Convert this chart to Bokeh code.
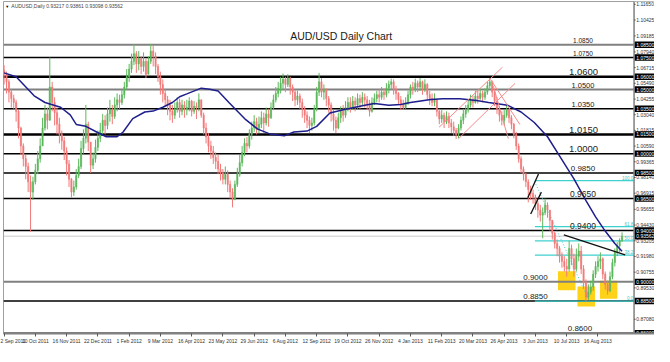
import numpy as np
from bokeh.plotting import figure
from bokeh.models import Range1d, LinearAxis, FixedTicker, Label
from bokeh.embed import file_html
from bokeh.resources import INLINE
from bokeh.core.properties import value

# ---------------- data (prices in pips, 2-day bars) ----------------
first_open = 10650
closes = [
 10620,10560,10480,10430, 10400,10330,10200,10060, 9960,9900,9780,9700, 9780,9870,9960,10060,
 10200,10310,10260,10520, 10400,10320,10230,10150, 10100,10020,9920,9800, 9700,9740,9830,9900,
 10040,10120,10230,10090, 9910,9960,10050,10120, 10180,10260,10220,10310, 10340,10290,10380,10420,
 10400,10460,10520,10600, 10660,10720,10780,10700, 10740,10680,10720,10620, 10720,10800,10760,10680,
 10600,10540,10470,10420, 10380,10330,10300,10350, 10400,10330,10380,10340, 10360,10410,10330,10370,
 10360,10420,10300,10200, 10130,10060,10020,9970, 9940,9880,9850,9800, 9840,9760,9700,9640,
 9760,9840,9930,10010, 10080,10060,10150,10200, 10250,10190,10230,10280, 10240,10310,10280,10360,
 10420,10470,10510,10550, 10580,10540,10590,10520, 10480,10420,10450,10400, 10350,10300,10260,10220,
 10240,10350,10480,10560, 10480,10500,10430,10380, 10310,10260,10200,10280, 10330,10300,10360,10400,
 10360,10410,10380,10430, 10400,10440,10420,10390, 10330,10400,10430,10460, 10440,10480,10460,10510,
 10540,10560,10500,10470, 10420,10380,10360,10400, 10460,10520,10500,10550, 10520,10560,10500,10540,
 10460,10430,10400,10420, 10330,10270,10300,10250, 10290,10240,10210,10180, 10150,10200,10260,10310,
 10340,10380,10420,10400, 10450,10430,10470,10440, 10480,10530,10560,10480, 10410,10350,10300,10260,
 10300,10340,10280,10230, 10150,10060,9960,9880, 9840,9780,9720,9690, 9660,9610,9560,9520,
 9540,9600,9560,9480, 9380,9300,9260,9200, 9160,9120,9100,9260, 9180,9100,9200,9240,
 9100,8990,8880,8920, 8960,9060,9120,9160, 9180,9060,8980,8930, 9040,9150,9230,9280,
 9322,9356]
highs = [
 10690,10640,10580,10500, 10460,10420,10340,10210, 10080,9990,9930,9830, 9820,9920,10020,10120,
 10280,10380,10360,10750, 10560,10440,10360,10280, 10180,10130,10050,9950, 9810,9790,9880,9960,
 10100,10190,10380,10250, 10060,10010,10110,10180, 10240,10310,10300,10360, 10420,10380,10440,10470,
 10460,10500,10560,10660, 10700,10780,10855,10800, 10800,10760,10790,10740, 10760,10856,10840,10790,
 10700,10640,10580,10500, 10450,10420,10380,10400, 10440,10430,10420,10410, 10420,10440,10420,10410,
 10400,10470,10420,10320, 10240,10160,10100,10060, 10010,9990,9920,9880, 9900,9870,9790,9730,
 9790,9890,9990,10060, 10120,10130,10190,10250, 10300,10280,10290,10330, 10320,10360,10350,10400,
 10460,10520,10560,10600, 10625,10600,10620,10600, 10540,10500,10490,10470, 10430,10370,10330,10290,
 10280,10380,10520,10630, 10590,10540,10510,10450, 10400,10340,10290,10320, 10370,10380,10410,10440,
 10440,10450,10440,10470, 10460,10480,10470,10450, 10420,10440,10470,10490, 10500,10520,10510,10550,
 10570,10585,10580,10530, 10480,10450,10420,10440, 10490,10540,10560,10585, 10570,10590,10570,10580,
 10550,10490,10470,10470, 10420,10350,10340,10320, 10330,10320,10270,10250, 10200,10230,10290,10350,
 10380,10420,10460,10450, 10490,10490,10510,10490, 10510,10560,10590,10570, 10500,10440,10370,10330,
 10340,10380,10350,10300, 10240,10170,10080,9980, 9900,9850,9800,9750, 9720,9680,9630,9600,
 9580,9650,9620,9560, 9460,9390,9330,9280, 9230,9200,9180,9320, 9290,9220,9260,9300,
 9280,9130,9020,8980, 9010,9090,9160,9200, 9230,9190,9080,9010, 9080,9180,9260,9310,
 9340,9386]
lows = [
 10540,10470,10400,10360, 10350,10250,10120,9990, 9900,9800,9700,9390, 9640,9760,9840,9930,
 10100,10180,10190,10300, 10330,10220,10150,10080, 10030,9950,9830,9740, 9660,9670,9720,9810,
 9880,10000,10080,10020, 9850,9880,9930,10020, 10090,10150,10150,10190, 10250,10230,10270,10330,
 10350,10380,10430,10500, 10560,10630,10690,10630, 10650,10620,10640,10590, 10620,10700,10680,10620,
 10560,10460,10400,10370, 10300,10260,10240,10270, 10320,10280,10300,10280, 10300,10330,10290,10310,
 10270,10330,10280,10150, 10080,10010,9960,9920, 9880,9840,9790,9760, 9760,9700,9650,9581,
 9640,9740,9820,9900, 9980,10010,10040,10110, 10170,10150,10160,10200, 10160,10220,10210,10270,
 10340,10400,10440,10470, 10500,10480,10520,10460, 10410,10370,10380,10350, 10280,10240,10200,10160,
 10180,10220,10330,10450, 10440,10420,10370,10320, 10250,10180,10160,10190, 10240,10250,10280,10330,
 10320,10340,10330,10350, 10350,10370,10360,10340, 10290,10320,10380,10400, 10400,10420,10420,10440,
 10470,10500,10460,10420, 10380,10340,10340,10350, 10380,10430,10460,10480, 10480,10490,10460,10480,
 10420,10380,10370,10370, 10290,10230,10240,10200, 10230,10200,10160,10140, 10115,10120,10180,10230,
 10280,10320,10360,10360, 10390,10390,10420,10400, 10420,10460,10500,10440, 10370,10310,10250,10220,
 10220,10280,10240,10190, 10120,10030,9930,9850, 9790,9740,9620,9640, 9610,9560,9500,9470,
 9340,9520,9500,9400, 9330,9260,9200,9150, 9110,9080,9040,9080, 9130,9040,9080,9160,
 9060,8950,8848,8860, 8900,8930,9030,9080, 9100,9020,8940,8900, 8920,9020,9120,9200,
 9230,9310]

# moving average trace (bar index, price)
ma_idx = [0, 10, 25, 34, 47, 55, 60, 68, 77, 85, 94, 99, 107, 117, 124, 132, 140, 146, 152, 164,
          171, 178, 187, 201, 211, 221, 233, 241, 252, 260, 271, 284, 300, 308, 320, 330, 338, 355,
          365, 379, 393, 403, 419, 430, 441, 452, 462, 474, 484, 492, 500, 508, 514]
ma_val = [1.0630, 1.0600, 1.0451, 1.0399, 1.0362, 1.0303, 1.0228, 1.0213, 1.0169, 1.0132, 1.0132,
          1.0169, 1.0273, 1.0325, 1.0332, 1.0362, 1.0399, 1.0444, 1.0466, 1.0511, 1.0503, 1.0488,
          1.0399, 1.0265, 1.0191, 1.0154, 1.0139, 1.0169, 1.0176, 1.0213, 1.0317, 1.0347, 1.0377,
          1.0392, 1.0377, 1.0384, 1.0399, 1.0422, 1.0429, 1.0429, 1.0414, 1.0399, 1.0377, 1.0325,
          1.0243, 1.0132, 0.9983, 0.9804, 0.9634, 0.9507, 0.9396, 0.9299, 0.9239]

levels = [1.0850, 1.0750, 1.0600, 1.0500, 1.0350, 1.0150, 1.0000, 0.9850, 0.9650, 0.9400,
          0.9000, 0.8850, 0.8600]
level_texts = ["1.0850", "1.0750", "1.0600", "1.0500", "1.0350", "1.0150", "1.0000", "0.9850",
               "0.9650", "0.9400", "0.9000", "0.8850", "0.8600"]
level_boxes = ["1.08500", "1.07500", "1.06000", "1.05000", "1.03500", "1.01500", "1.00000",
               "0.98500", "0.96500", "0.94000", "0.90000", "0.88500", "0.86000"]

fib_levels = [0.9790, 0.9431, 0.9320, 0.9209, 0.8850]
fib_texts = ["100.0", "61.8", "50.0", "38.2", "0.0"]
fib_start = 441.5

current_price = 0.93562
current_text = "0.93562"
header_text = "AUDUSD,Daily  0.93217 0.93861 0.93098 0.93562"
title_text = "AUD/USD Daily Chart"

# yellow boxes (bar index range, price range)
box_left = [460.7, 476.9, 495.6]
box_right = [475.3, 491.5, 510.1]
box_top = [0.9083, 0.8964, 0.9009]
box_bottom = [0.8935, 0.8808, 0.8868]

# trend lines
black_x0 = [465.6, 435.6, 438.0]
black_y0 = [0.9366, 0.9656, 0.9529]
black_x1 = [516.6, 444.5, 446.9]
black_y1 = [0.9210, 0.9842, 0.9700]
red_x0 = [361.8, 378.0, 404.8, 407.0]
red_y0 = [1.0206, 1.0117, 1.0578, 1.0526]
red_x1 = [414.5, 425.0, 429.0, 419.4]
red_y1 = [1.0674, 1.0548, 1.0228, 1.0117]
fib_diag_x = [441.3, 485.8]
fib_diag_y = [0.9782, 0.8868]

xtick_idx = [0, 26, 52, 78, 104, 130, 156, 182, 208, 234, 260, 286, 312, 338, 364, 390, 416,
             442, 468, 494]
xtick_labels = ["2 Sep 2011", "10 Oct 2011", "16 Nov 2011", "22 Dec 2011", "1 Feb 2012",
                "9 Mar 2012", "16 Apr 2012", "23 May 2012", "29 Jun 2012", "6 Aug 2012",
                "12 Sep 2012", "19 Oct 2012", "26 Nov 2012", "4 Jan 2013", "11 Feb 2013",
                "20 Mar 2013", "26 Apr 2013", "3 Jun 2013", "10 Jul 2013", "16 Aug 2013"]
ytick_vals = [1.11650, 1.10425, 1.09185, 1.07940, 1.06715, 1.05490, 1.04255, 1.03040, 1.01815,
              1.00590, 0.99365, 0.98140, 0.96915, 0.95655, 0.94430, 0.93205, 0.91980, 0.90755,
              0.89530, 0.87080]
ytick_texts = ["1.11650", "1.10425", "1.09185", "1.07940", "1.06715", "1.05490", "1.04255",
               "1.03040", "1.01815", "1.00590", "0.99365", "0.98140", "0.96915", "0.95655",
               "0.94430", "0.93205", "0.91980", "0.90755", "0.89530", "0.87080"]

# ---------------- styles / layout ----------------
FONT = "Liberation Sans"
X_MIN, X_EDGE, X_MAX = -0.5, 524.0, 541.0
Y_MIN, Y_MAX = 0.8597, 1.1187
level_colors = ["#808080", "#000000", "#000000", "#808080", "#000000", "#000000", "#000000",
                "#000000", "#000000", "#000000", "#808080", "#000000", "#808080"]
level_widths = [2, 1.5, 2.5, 2, 1.5, 2.5, 1.5, 1.5, 1.5, 1.5, 2, 1.5, 2]
level_sizes = ["6.5px", "6.5px", "9.5px", "7.5px", "7.5px", "9.5px", "9.5px", "8px", "8.5px",
               "8.5px", "8px", "8px", "8px"]
level_xpos = [481.5, 481.5, 482, 481.5, 481.5, 482, 482, 481.5, 481.5, 481.5, 442, 442, 479]

cl = np.array(closes, dtype=float) / 10000.0
hi = np.array(highs, dtype=float) / 10000.0
lo = np.array(lows, dtype=float) / 10000.0
op = np.concatenate([[first_open / 10000.0], cl[:-1]])
hi = np.maximum(hi, np.maximum(op, cl))
lo = np.minimum(lo, np.minimum(op, cl))
xi = np.arange(len(cl)) * 2.0
up = cl >= op
ccol = np.where(up, "#5cb85c", "#f27a7a")

p = figure(width=654, height=346, output_backend="svg", toolbar_location=None,
           x_range=Range1d(X_MIN, X_MAX), y_range=Range1d(Y_MIN, Y_MAX),
           x_axis_location=None, y_axis_location=None,
           min_border_left=3, min_border_right=0, min_border_top=1, min_border_bottom=2)
p.background_fill_color = "white"
p.border_fill_color = "white"
p.outline_line_color = "#a0a0a0"
p.outline_line_width = 1
p.xgrid.visible = False
p.ygrid.visible = False

xax = LinearAxis(ticker=FixedTicker(ticks=xtick_idx),
                 major_label_overrides={i: s for i, s in zip(xtick_idx, xtick_labels)},
                 major_label_text_font_size="5px", major_label_text_font=FONT,
                 major_label_text_color="#333333", major_label_text_align="left",
                 major_tick_in=0, major_tick_out=3, major_tick_line_color="#555555",
                 minor_tick_line_color=None, axis_line_color="#808080", axis_line_width=2,
                 major_label_standoff=1)
p.add_layout(xax, "below")

# yellow boxes
p.quad(left=box_left, right=box_right, top=box_top, bottom=box_bottom,
       fill_color="#ffd21a", line_color=None)

# horizontal levels (chart area only)
p.segment(x0=[X_MIN] * len(levels), y0=levels, x1=[X_EDGE] * len(levels), y1=levels,
          line_color=level_colors, line_width=level_widths)
p.segment(x0=[X_MIN], y0=[current_price], x1=[X_EDGE], y1=[current_price],
          line_color="#cccccc", line_width=1)

# fib lines
p.segment(x0=[fib_start] * len(fib_levels), y0=fib_levels, x1=[X_EDGE] * len(fib_levels),
          y1=fib_levels, line_color="#3fd0d0", line_width=1.3)
p.line(fib_diag_x, fib_diag_y, line_color="#3fd0d0", line_width=1, line_dash="1 2")

# candles
p.segment(x0=xi, y0=lo, x1=xi, y1=hi, line_color=ccol, line_width=1)
p.vbar(x=xi, width=1.1, top=np.maximum(op, cl), bottom=np.minimum(op, cl),
       fill_color=ccol, line_color=ccol, line_width=0.5)

# moving average
p.line(ma_idx, ma_val, line_color="#1e1e8c", line_width=1.5)

# trend lines
p.segment(x0=black_x0, y0=black_y0, x1=black_x1, y1=black_y1, line_color="#111111", line_width=1.3)
p.segment(x0=red_x0, y0=red_y0, x1=red_x1, y1=red_y1, line_color="#f48a8a", line_width=1)

# right price scale (drawn inside the frame's right strip)
p.rect(x=[(X_EDGE + X_MAX) / 2], y=[(Y_MIN + Y_MAX) / 2], width=X_MAX - X_EDGE,
       height=Y_MAX - Y_MIN, fill_color="white", line_color=None)
p.segment(x0=[X_EDGE], y0=[Y_MIN], x1=[X_EDGE], y1=[Y_MAX], line_color="#808080", line_width=1.5)
p.segment(x0=[X_EDGE] * len(ytick_vals), y0=ytick_vals, x1=[X_EDGE + 1.3] * len(ytick_vals),
          y1=ytick_vals, line_color="#555555", line_width=1)
p.text(x=[X_EDGE + 1.8] * len(ytick_vals), y=ytick_vals, text=ytick_texts,
       text_font=value(FONT), text_font_size="5px", text_color="#333333",
       text_baseline="middle", text_align="left")
box_vals = levels + [current_price]
box_texts = level_boxes + [current_text]
p.rect(x=[(X_EDGE + 0.6 + X_MAX) / 2] * len(box_vals), y=box_vals, width=X_MAX - X_EDGE - 0.6,
       height=0.0050, fill_color="#000000", line_color=None)
p.text(x=[X_EDGE + 1.8] * len(box_vals), y=box_vals, text=box_texts,
       text_font=value(FONT), text_font_size="5px", text_color="#ffffff",
       text_baseline="middle", text_align="left")

# texts
p.add_layout(Label(x=1, y=1.1150, text="\u25BC", text_font_size="4px", text_color="#000000",
                   text_baseline="middle", text_font=FONT))
p.add_layout(Label(x=6, y=1.1150, text=header_text, text_font_size="5px", text_color="#444444",
                   text_baseline="middle", text_font=FONT))
p.add_layout(Label(x=280.4, y=1.0920, text=title_text, text_font_size="10.5px", text_color="#1a1a1a",
                   text_align="center", text_baseline="middle", text_font=FONT))
for lv, t, sz, xp in zip(levels, level_texts, level_sizes, level_xpos):
    p.add_layout(Label(x=xp, y=lv + 0.0013, text=t, text_font_size=sz, text_color="#222222",
                       text_align="center", text_baseline="bottom", text_font=FONT))
for lv, t in zip(fib_levels, fib_texts):
    p.add_layout(Label(x=X_EDGE - 0.7, y=lv + 0.0007, text=t, text_font_size="4.5px",
                       text_color="#3fc8c8", text_align="right", text_baseline="bottom",
                       text_font=FONT))

open("out.html", "w").write(file_html(p, INLINE))
